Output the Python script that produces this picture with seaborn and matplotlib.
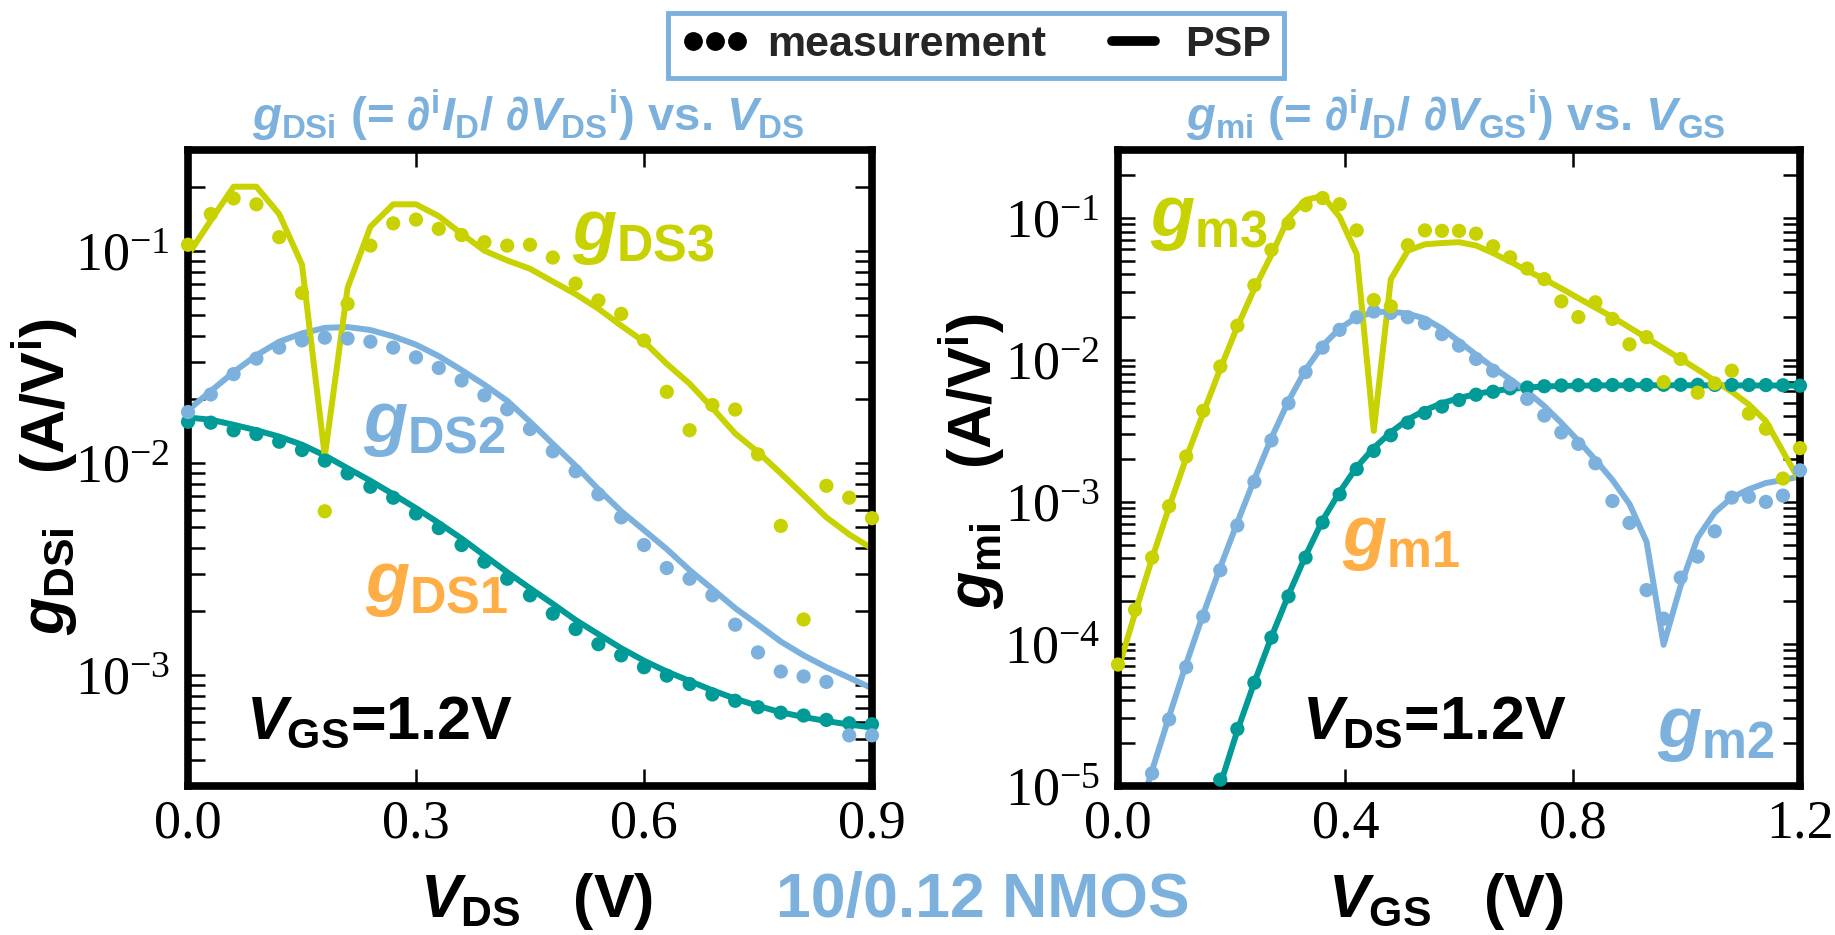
import numpy as np
import pandas as pd
import matplotlib
matplotlib.use("Agg")
import matplotlib.pyplot as plt
import seaborn as sns
from matplotlib.lines import Line2D
from matplotlib.ticker import LogLocator, FuncFormatter, NullFormatter, NullLocator, FixedLocator

# ---------------------------------------------------------------- data
# Drain-voltage sweep (V_GS = 1.2 V) and gate-voltage sweep (V_DS = 1.2 V), 30 mV steps
VDS_STEP = 0.03
VGS_STEP = 0.03
vds = np.round(np.arange(31) * VDS_STEP, 2)
vgs = np.round(np.arange(41) * VGS_STEP, 2)
nan = np.nan

# g_DSi vs V_DS  (A/V^i)
gds1_meas = [0.01567, 0.01552, 0.01429, 0.01371, 0.01262, 0.01153, 0.01028, 0.00895, 0.00774, 0.00687,
             0.00579, 0.00494, 0.00411, 0.00343, 0.00285, 0.00238, 0.00195, 0.00165, 0.00140, 0.00124,
             0.00109, 0.000995, 0.000908, 0.000811, 0.000757, 0.000706, 0.000665, 0.000645, 0.000615,
             0.000593, 0.000587]
gds1_psp = [0.01641, 0.01603, 0.01517, 0.01429, 0.01334, 0.01222, 0.01086, 0.00946, 0.00826, 0.00713,
            0.00613, 0.00522, 0.00441, 0.00367, 0.00306, 0.00257, 0.00217, 0.00182, 0.00156, 0.00134,
            0.00117, 0.00104, 0.000938, 0.000848, 0.000774, 0.000716, 0.000668, 0.000635, 0.000607,
            0.000585, 0.000566]
gds2_meas = [0.01742, 0.02109, 0.02630, 0.03112, 0.03508, 0.03793, 0.03908, 0.03873, 0.03741, 0.03508,
             0.03155, 0.02812, 0.02455, 0.02089, 0.01795, 0.01449, 0.01138, 0.00916, 0.00713, 0.00555,
             0.00411, 0.00320, 0.00285, 0.00238, 0.00173, 0.00128, 0.00104, 0.000986, 0.000929,
             0.000520, 0.000520]
gds2_psp = [0.01778, 0.02188, 0.02688, 0.03226, 0.03741, 0.04093, 0.04345, 0.04385, 0.04246, 0.03963,
            0.03622, 0.03197, 0.02748, 0.02344, 0.01968, 0.01567, 0.01233, 0.00972, 0.00753, 0.00593,
            0.00483, 0.00393, 0.00313, 0.00255, 0.00207, 0.00173, 0.00144, 0.00124, 0.00109,
            0.000973, 0.000867]
gds3_meas = [0.1072, 0.1496, 0.1774, 0.1663, 0.1164, 0.0635, 0.00593, 0.0564, 0.1062, 0.1352,
             0.1409, 0.1274, 0.1191, 0.1102, 0.1062, 0.1072, 0.0933, 0.0703, 0.0585, 0.0506,
             0.0379, 0.0217, 0.0143, 0.0188, 0.0179, 0.0110, 0.00506, 0.00183, 0.00782, 0.00687,
             0.00550]
gds3_psp = [0.0959, 0.1396, 0.2014, 0.2014, 0.1496, 0.0863, 0.01076, 0.0671, 0.1303, 0.1663,
            0.1663, 0.1462, 0.1208, 0.1005, 0.0904, 0.0826, 0.0719, 0.0627, 0.0535, 0.0445,
            0.0374, 0.0294, 0.0237, 0.0182, 0.0138, 0.01127, 0.00895, 0.00706, 0.00555, 0.00461,
            0.00396]

# g_mi vs V_GS  (A/V^i)
gm1_meas = [nan, nan, nan, nan, nan, nan,
            1.109e-5, 2.518e-5, 5.33e-5, 1.109e-4, 2.163e-4, 4.055e-4, 7.16e-4, 1.130e-3, 1.702e-3,
            2.286e-3, 2.944e-3, 3.614e-3, 4.227e-3, 4.688e-3, 5.21e-3, 5.68e-3, 5.96e-3, 6.30e-3,
            6.38e-3, 6.52e-3, 6.60e-3, 6.63e-3, 6.64e-3, 6.65e-3, 6.66e-3, 6.66e-3, 6.67e-3, 6.67e-3,
            6.67e-3, 6.66e-3, 6.66e-3, 6.65e-3, 6.64e-3, 6.62e-3, 6.58e-3]
gm1_psp = [nan, nan, nan, nan, nan,
           4.37e-6, 1.023e-5, 2.455e-5, 5.37e-5, 1.122e-4, 2.213e-4, 4.17e-4, 7.41e-4, 1.175e-3,
           1.758e-3, 2.399e-3, 3.09e-3, 3.80e-3, 4.416e-3, 4.955e-3, 5.37e-3, 5.75e-3, 6.03e-3,
           6.24e-3, 6.38e-3, 6.49e-3, 6.55e-3, 6.58e-3, 6.60e-3, 6.61e-3, 6.62e-3, 6.62e-3, 6.62e-3,
           6.62e-3, 6.62e-3, 6.61e-3, 6.61e-3, 6.60e-3, 6.60e-3, 6.59e-3, 6.58e-3]
gm2_meas = [nan, nan,
            1.227e-5, 2.944e-5, 6.87e-5, 1.560e-4, 3.304e-4, 6.82e-4, 1.387e-3, 2.710e-3, 4.943e-3,
            8.20e-3, 0.01219, 0.01626, 0.01995, 0.0219, 0.0214, 0.01995, 0.01811, 0.01517, 0.01259,
            0.01014, 0.00838, 0.00673, 0.00531, 0.00405, 0.00308, 0.00256, 0.00187, 0.001014,
            7.11e-4, 2.393e-4, 1.507e-4, 2.931e-4, 4.12e-4, 6.21e-4, 1.072e-3, 1.086e-3, 1.000e-3,
            1.107e-3, 1.667e-3]
gm2_psp = [nan,
           5.25e-6, 1.288e-5, 3.09e-5, 7.24e-5, 1.622e-4, 3.47e-4, 7.16e-4, 1.445e-3, 2.818e-3,
           5.13e-3, 8.51e-3, 0.01259, 0.01660, 0.01995, 0.02163, 0.02188, 0.02113, 0.01950, 0.01660,
           0.01349, 0.01086, 0.00885, 0.00731, 0.00596, 0.00473, 0.00360, 0.00269, 0.00198,
           0.001426, 9.66e-4, 5.24e-4, 9.86e-5, 2.57e-4, 5.61e-4, 8.43e-4, 1.072e-3, 1.227e-3,
           1.358e-3, 1.426e-3, 1.507e-3]
gm3_meas = [7.16e-5, 1.738e-4, 4.055e-4, 9.33e-4, 2.089e-3, 4.375e-3, 8.97e-3, 0.01738, 0.0335,
            0.0594, 0.0914, 0.1227, 0.1377, 0.1245, 0.0815, 0.02636, 0.02382, 0.0641, 0.0815,
            0.0809, 0.0809, 0.0773, 0.0630, 0.0527, 0.0439, 0.0370, 0.0258, 0.0200, 0.0254, 0.0194,
            0.01285, 0.01445, 0.00697, 0.01014, 0.00587, 0.00682, 0.00838, 0.00418, 0.00327,
            0.00146, 0.00239]
gm3_psp = [6.55e-5, 1.648e-4, 4.0e-4, 9.2e-4, 2.037e-3, 4.227e-3, 8.67e-3, 0.01714, 0.0317,
           0.0548, 0.1000, 0.1334, 0.1426, 0.1014, 0.0556, 0.003155, 0.0369, 0.0587, 0.0650,
           0.0664, 0.0673, 0.0638, 0.0564, 0.0492, 0.0424, 0.0370, 0.0318, 0.0272, 0.0233, 0.0200,
           0.0169, 0.01426, 0.01202, 0.01014, 0.00855, 0.00711, 0.00596, 0.00485, 0.00370,
           0.00226, 0.00139]

orders = ["1", "2", "3"]
x_ticks_ds = [0.0, 0.3, 0.6, 0.9]
x_ticks_gs = [0.0, 0.4, 0.8, 1.2]

# ---------------------------------------------------------------- style
YELLOW = "#c8d200"
TEAL = "#009a97"
BLUE = "#7db1dd"
ORANGE = "#ffad45"
palette = {"1": TEAL, "2": BLUE, "3": YELLOW}

sns.set_theme(style="ticks")
plt.rcParams.update({
    "font.family": ["Liberation Sans", "DejaVu Sans"],
    "font.weight": "normal",
    "mathtext.fontset": "custom",
    "mathtext.rm": "Liberation Sans:bold",
    "mathtext.it": "Liberation Sans:italic:bold",
    "mathtext.bf": "Liberation Sans:bold",
    "mathtext.sf": "Liberation Sans:bold",
})

W, H = 1835, 935
fig = plt.figure(figsize=(W / 100, H / 100), dpi=100)
fig.patch.set_facecolor("white")


def frame(x0, y0, x1, y1):
    return [x0 / W, 1 - y1 / H, (x1 - x0) / W, (y1 - y0) / H]


ax1 = fig.add_axes(frame(188, 150, 872, 786))
ax2 = fig.add_axes(frame(1118, 150, 1800, 786))


def long_form(x, series):
    return pd.DataFrame({
        "V": np.concatenate([x] * len(series)),
        "g": np.concatenate([np.asarray(s, dtype=float) for s in series]),
        "order": np.repeat(orders, len(x)),
    })


left_psp = long_form(vds, [gds1_psp, gds2_psp, gds3_psp])
left_meas = long_form(vds, [gds1_meas, gds2_meas, gds3_meas])
right_psp = long_form(vgs, [gm1_psp, gm2_psp, gm3_psp])
right_meas = long_form(vgs, [gm1_meas, gm2_meas, gm3_meas])


def draw(ax, psp, meas):
    ax.set_yscale("log")
    sns.lineplot(data=psp.dropna(), x="V", y="g", hue="order", hue_order=orders, palette=palette,
                 estimator=None, sort=False, lw=4.3, legend=False, ax=ax, zorder=2)
    sns.scatterplot(data=meas.dropna(), x="V", y="g", hue="order", hue_order=orders, palette=palette,
                    s=105, edgecolor="none", linewidth=0, legend=False, ax=ax, zorder=3, clip_on=False)


draw(ax1, left_psp, left_meas)
draw(ax2, right_psp, right_meas)

ax1.set_xlim(0, 0.9)
ax1.set_ylim(3e-4, 0.3)
ax2.set_xlim(0, 1.2)
ax2.set_ylim(1e-5, 0.3)
ax1.xaxis.set_major_locator(FixedLocator(x_ticks_ds))
ax2.xaxis.set_major_locator(FixedLocator(x_ticks_gs))


def pow_label(v, pos):
    return r"$\mathregular{10^{%d}}$" % int(round(np.log10(v)))


for ax in (ax1, ax2):
    ax.set_xlabel("")
    ax.set_ylabel("")
    ax.xaxis.set_major_formatter(FuncFormatter(lambda v, p: "%.1f" % v))
    ax.xaxis.set_minor_locator(NullLocator())
    ax.yaxis.set_major_locator(LogLocator(base=10, numticks=12))
    ax.yaxis.set_minor_locator(LogLocator(base=10, subs=np.arange(2, 10), numticks=40))
    ax.yaxis.set_minor_formatter(NullFormatter())
    ax.yaxis.set_major_formatter(FuncFormatter(pow_label))
    ax.tick_params(axis="both", which="both", direction="in", top=True, right=True,
                   length=12, width=1.8, color="black", labelcolor="black", labelsize=39,
                   labelfontfamily="Liberation Serif")
    ax.tick_params(axis="y", which="both", pad=13)
    ax.tick_params(axis="x", which="both", pad=9)
    for sp in ax.spines.values():
        sp.set_linewidth(5.5)
        sp.set_color("black")
        sp.set_capstyle("projecting")
        sp.set_visible(True)
    ax.set_facecolor("white")


# ---------------------------------------------------------------- text
def ftext(x, y, s, **kw):
    kw.setdefault("fontweight", "bold")
    kw.setdefault("va", "baseline")
    return fig.text(x / W, 1 - y / H, s, **kw)


ftext(528, 131, r"$g_{\mathrm{DSi}}$ (= $\partial^{\mathrm{i}}I_{\mathrm{D}}$/ $\partial V_{\mathrm{DS}}{}^{\mathrm{i}}$) vs. $V_{\mathrm{DS}}$",
      ha="center", fontsize=34, color=BLUE)
ftext(1456, 131, r"$g_{\mathrm{mi}}$ (= $\partial^{\mathrm{i}}I_{\mathrm{D}}$/ $\partial V_{\mathrm{GS}}{}^{\mathrm{i}}$) vs. $V_{\mathrm{GS}}$",
      ha="center", fontsize=34, color=BLUE)

ftext(45, 477, r"$g_{\mathrm{DSi}}$   (A/V$^{\mathrm{i}}$)", rotation=90, ha="center", va="center",
      fontsize=44, color="black")
ftext(972, 461, r"$g_{\mathrm{mi}}$   (A/V$^{\mathrm{i}}$)", rotation=90, ha="center", va="center",
      fontsize=44, color="black")

ftext(420, 917, r"$V_{\mathrm{DS}}$   (V)", ha="left", fontsize=44, color="black")
ftext(1328, 917, r"$V_{\mathrm{GS}}$   (V)", ha="left", fontsize=44, color="black")
ftext(983, 917, "10/0.12 NMOS", ha="center", fontsize=45, color=BLUE)

ftext(246, 738, r"$V_{\mathrm{GS}}$=1.2V", ha="left", fontsize=44, color="black")
ftext(1302, 738, r"$V_{\mathrm{DS}}$=1.2V", ha="left", fontsize=44, color="black")

ftext(572, 250, r"$g_{\mathrm{DS3}}$", ha="left", fontsize=52, color=YELLOW)
ftext(363, 442, r"$g_{\mathrm{DS2}}$", ha="left", fontsize=52, color=BLUE)
ftext(365, 602, r"$g_{\mathrm{DS1}}$", ha="left", fontsize=52, color=ORANGE)
ftext(1150, 236, r"$g_{\mathrm{m3}}$", ha="left", fontsize=52, color=YELLOW)
ftext(1342, 556, r"$g_{\mathrm{m1}}$", ha="left", fontsize=52, color=ORANGE)
ftext(1657, 747, r"$g_{\mathrm{m2}}$", ha="left", fontsize=52, color=BLUE)

# ---------------------------------------------------------------- legend
handles = [Line2D([], [], ls="none", marker="o", ms=12.5, color="black"),
           Line2D([], [], color="black", lw=7)]
leg = fig.legend(handles, ["measurement", "PSP"], loc="center",
                 bbox_to_anchor=(976 / W, 1 - 45.5 / H), ncol=2, numpoints=3,
                 frameon=True, fancybox=False, edgecolor=BLUE, framealpha=1,
                 prop={"family": "Liberation Sans", "weight": "bold", "size": 31},
                 handlelength=1.6, handletextpad=0.4, columnspacing=1.25,
                 borderpad=0.3, borderaxespad=0)
leg.get_frame().set_linewidth(3.5)

fig.savefig("out.png", dpi=100, facecolor="white")
